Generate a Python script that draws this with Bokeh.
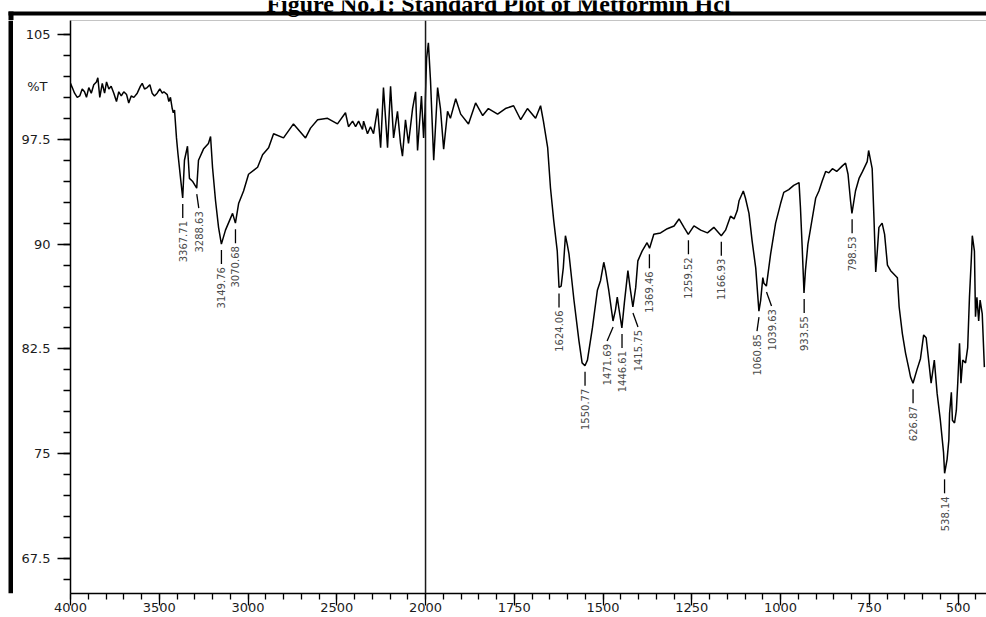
import numpy as np
from bokeh.plotting import figure
from bokeh.layouts import column, row
from bokeh.models import Range1d, FixedTicker, Span, LinearAxis
from bokeh.core.properties import value
from bokeh.embed import file_html
from bokeh.resources import INLINE

# ---------------- data ----------------
wavenumber = [
    4000, 3990, 3977, 3962, 3948, 3934, 3921, 3910, 3897, 3883, 3869, 3854, 3846, 3835,
    3821, 3808, 3797, 3784, 3771, 3756, 3741, 3728, 3714, 3700, 3684, 3672, 3658, 3643,
    3624, 3606, 3596, 3583, 3568, 3553, 3540, 3527, 3512, 3497, 3483, 3474, 3455, 3446,
    3437, 3427, 3421, 3414, 3403, 3395, 3380, 3368, 3358, 3341, 3330, 3313, 3289, 3279,
    3251, 3223, 3211, 3200, 3183, 3166, 3150, 3127, 3087, 3071, 3053, 3025, 2997, 2946,
    2918, 2884, 2856, 2800, 2744, 2676, 2648, 2608, 2552, 2496, 2451, 2434, 2411, 2394,
    2377, 2355, 2349, 2327, 2310, 2293, 2270, 2253, 2237, 2214, 2197, 2180, 2158, 2141,
    2130, 2113, 2096, 2073, 2056, 2045, 2023, 2011, 2003,
    1997, 1992, 1986, 1977, 1966, 1958, 1949, 1938, 1930, 1915, 1901, 1879, 1859, 1839,
    1823, 1797, 1775, 1752, 1732, 1713, 1690, 1676, 1668, 1656, 1648, 1639, 1629, 1624,
    1618, 1612, 1606, 1601, 1596, 1582, 1568, 1559, 1551, 1544, 1530, 1516, 1507, 1498,
    1493, 1484, 1472, 1465, 1460, 1456, 1447, 1440, 1430, 1424, 1416, 1408, 1402, 1390,
    1376, 1369, 1357, 1338, 1319, 1300, 1286, 1272, 1260, 1244, 1225, 1206, 1188, 1174,
    1167, 1155, 1141, 1131, 1122, 1117, 1105, 1099, 1089, 1080, 1070, 1061, 1056, 1050,
    1047, 1040, 1028, 1014, 1000, 991, 977, 963, 948, 944, 939, 934, 930, 923, 915, 901,
    892, 883, 873, 864, 854, 842, 826, 817, 810, 803, 799, 789, 779, 769, 756, 752, 742,
    737, 732, 727, 723, 714, 707, 699, 690, 671, 666, 657, 648, 638, 634, 627, 616, 606,
    597, 590, 583, 576, 567, 559, 550, 541, 538, 531, 526, 524, 519, 516, 510, 505, 501,
    496, 492, 487, 479, 473, 468, 463, 460, 454, 451, 447, 442, 438, 432, 426,
]
transmittance = [
    101.5, 101.2, 100.8, 100.5, 100.6, 101.1, 100.9, 100.5, 101.2, 100.8, 101.4, 101.6, 101.9, 100.5,
    101.5, 100.8, 101.6, 101.1, 101.3, 100.8, 100.2, 100.9, 100.6, 100.9, 100.7, 100.1, 100.6, 100.5,
    100.8, 101.3, 101.5, 101.1, 101.2, 101.4, 100.8, 100.6, 100.8, 101.1, 100.8, 100.9, 100.7, 100.2,
    100.5, 99.7, 99.4, 99.6, 97.6, 96.5, 94.7, 93.3, 96.0, 97.0, 94.7, 94.5, 94.0, 96.0,
    96.8, 97.2, 97.7, 95.5, 93.1, 91.2, 90.0, 91.0, 92.2, 91.5, 92.9, 93.8, 95.0, 95.5,
    96.4, 96.9, 97.9, 97.6, 98.6, 97.6, 98.3, 98.9, 99.0, 98.6, 99.4, 98.4, 98.8, 98.4,
    98.8, 98.2, 98.8, 97.9, 98.4, 97.9, 99.7, 96.9, 101.2, 96.9, 101.3, 97.6, 99.5, 97.2,
    96.3, 98.9, 97.2, 99.7, 100.9, 96.7, 100.6, 97.6, 99.5,
    103.3, 104.4, 101.7, 96.0, 101.2, 99.7, 96.8, 99.5, 99.0, 100.4, 99.3, 98.6, 100.1, 99.2,
    99.7, 99.3, 99.7, 99.9, 98.9, 99.7, 99.0, 99.9, 98.8, 96.9, 94.0, 91.7, 89.5, 86.9,
    87.0, 88.3, 90.6, 90.0, 89.3, 86.0, 83.1, 81.5, 81.3, 81.7, 84.0, 86.7, 87.4, 88.7,
    88.1, 86.7, 84.5, 85.3, 86.2, 85.5, 84.0, 85.8, 88.1, 86.9, 85.5, 86.9, 88.8, 89.5,
    90.1, 89.7, 90.7, 90.8, 91.1, 91.3, 91.8, 91.2, 90.7, 91.3, 91.0, 90.8, 91.2, 90.8,
    90.6, 91.0, 92.0, 91.8, 92.4, 93.1, 93.8, 93.3, 92.2, 90.2, 88.3, 85.2, 86.0, 87.6,
    87.2, 87.0, 89.3, 91.5, 92.9, 93.7, 93.9, 94.2, 94.4, 92.6, 89.7, 86.5, 88.1, 90.0, 91.2, 93.3,
    93.8, 94.5, 95.2, 95.1, 95.4, 95.2, 95.6, 95.8, 95.0, 93.1, 92.2, 93.8, 94.7, 95.2, 95.9, 96.7, 95.4,
    91.9, 88.0, 89.7, 91.2, 91.5, 90.7, 88.5, 88.1, 87.6, 85.5, 83.6, 82.2, 81.0, 80.5, 80.05, 81.0, 81.8,
    83.5, 83.3, 81.7, 80.05, 81.7, 79.3, 77.4, 75.1, 73.6, 74.6, 76.0, 77.9, 79.4, 77.4, 77.2, 78.1, 80.05,
    82.9, 80.05, 81.7, 81.5, 82.6, 86.2, 88.8, 90.6, 89.5, 84.8, 86.2, 84.5, 86.0, 85.0, 81.2,
]

peak_labels = ["3367.71", "3288.63", "3149.76", "3070.68", "1624.06", "1550.77",
               "1471.69", "1446.61", "1415.75", "1369.46", "1259.52", "1166.93",
               "1060.85", "1039.63", "933.55", "798.53", "626.87", "538.14"]
peak_wn = [float(s) for s in peak_labels]
peak_T = [93.3, 94.0, 90.0, 91.5, 86.9, 81.3, 84.5, 84.0, 85.5, 89.7, 90.7, 90.6,
          85.2, 87.0, 86.5, 92.2, 80.05, 73.6]

x_tick_values = [4000, 3500, 3000, 2500, 2000, 1750, 1500, 1250, 1000, 750, 500]
y_tick_values = [67.5, 75, 82.5, 90, 97.5, 105]
y_tick_labels = ["67.5", "75", "82.5", "90", "97.5", "105"]
y_unit_pos, y_unit_text = 101.25, "%T"

title_text = "Figure No.1: Standard Plot of Metformin Hcl"

X_LEFT, X_RIGHT = 4000, 420
Y_MIN, Y_MAX = 65, 106


def to_disp(w):
    """IR chart abscissa: 4000-2000 cm-1 drawn at half the scale of 2000-400."""
    w = np.asarray(w, dtype=float)
    return np.where(w > 2000, 2000 + (w - 2000) / 2.0, w)


# ---------------- page geometry ----------------
PAGE_W, PAGE_H = 986, 617
TOP_H = 20          # strip holding the cut title and the box border
LEFT_W = 13         # strip holding the thick left box border
BORDER_X0 = 8       # left edge of the box border
BORDER_TOP = (11, 15)
MAIN_W, MAIN_H = PAGE_W - LEFT_W, PAGE_H - TOP_H
B_LEFT, B_RIGHT, B_TOP, B_BOTTOM = 70 - LEFT_W, 0, 0, 24
frame_w = MAIN_W - B_LEFT - B_RIGHT
frame_h = MAIN_H - B_TOP - B_BOTTOM
d_left, d_right = float(to_disp(X_LEFT)), float(to_disp(X_RIGHT))
ppx = frame_w / (d_left - d_right)   # px per display unit
ppy = frame_h / (Y_MAX - Y_MIN)      # px per %T


def decor_fig(w, h):
    f = figure(width=w, height=h, x_range=Range1d(0, w), y_range=Range1d(h, 0),
               output_backend="svg", toolbar_location=None, min_border=0,
               x_axis_type=None, y_axis_type=None)
    f.outline_line_color = None
    f.background_fill_color = "white"
    f.border_fill_color = "white"
    return f


# top strip: title (its upper half falls outside the page, as in the reference) + border
top = decor_fig(PAGE_W, TOP_H)
top.text(x=[PAGE_W / 2 + 5], y=[3], text=[title_text], text_align="center",
         text_baseline="alphabetic", text_font=value("Liberation Serif"),
         text_font_style="bold", text_font_size="24px", text_color="black")
top.quad(left=[BORDER_X0], right=[PAGE_W], top=[BORDER_TOP[0]], bottom=[BORDER_TOP[1]],
         fill_color="black", line_color=None)
top.quad(left=[BORDER_X0], right=[LEFT_W], top=[BORDER_TOP[0]], bottom=[TOP_H],
         fill_color="black", line_color=None)

# left strip: thick border
left = decor_fig(LEFT_W, MAIN_H)
left.quad(left=[BORDER_X0], right=[LEFT_W], top=[0], bottom=[MAIN_H],
          fill_color="black", line_color=None)

# ---------------- main chart ----------------
p = figure(width=MAIN_W, height=MAIN_H, output_backend="svg", toolbar_location=None,
           x_range=Range1d(d_left, d_right), y_range=Range1d(Y_MIN, Y_MAX),
           min_border_left=B_LEFT, min_border_right=B_RIGHT,
           min_border_top=B_TOP, min_border_bottom=B_BOTTOM)
p.background_fill_color = "white"
p.border_fill_color = "white"
p.outline_line_color = None
p.grid.visible = False

tick_font = "DejaVu Sans"
tick_color = "#1c1c1c"
tick_size = "13px"

# x axis
xt = [float(v) for v in to_disp(x_tick_values)]
p.xaxis.ticker = FixedTicker(ticks=xt, minor_ticks=[float(v) for v in np.arange(400, 3001, 50)])
p.xaxis.major_label_overrides = {t: str(v) for t, v in zip(xt, x_tick_values)}
p.xaxis.axis_line_color = "black"
p.xaxis.axis_line_width = 1.5
p.xaxis.major_tick_in = 0
p.xaxis.major_tick_out = 12
p.xaxis.minor_tick_in = 0
p.xaxis.minor_tick_out = 6
p.xaxis.major_tick_line_width = 1.3
p.xaxis.minor_tick_line_width = 1.3
p.xaxis.major_label_standoff = -3
p.xaxis.major_label_text_font = tick_font
p.xaxis.major_label_text_font_size = tick_size
p.xaxis.major_label_text_color = tick_color

# y axis: ticks and value labels
p.yaxis.ticker = FixedTicker(ticks=y_tick_values,
                             minor_ticks=[66 + 1.5 * i for i in range(27)])
p.yaxis.major_label_overrides = {float(t): s for t, s in zip(y_tick_values, y_tick_labels)}
p.yaxis.axis_line_color = "black"
p.yaxis.axis_line_width = 1.5
p.yaxis.major_tick_in = 0
p.yaxis.major_tick_out = 13
p.yaxis.minor_tick_in = 0
p.yaxis.minor_tick_out = 7
p.yaxis.major_tick_line_width = 1.3
p.yaxis.minor_tick_line_width = 1.3
p.yaxis.major_label_standoff = 7
p.yaxis.major_label_text_font = tick_font
p.yaxis.major_label_text_font_size = tick_size
p.yaxis.major_label_text_color = tick_color

# "%T" unit: a tick-less label axis pulled back into the value-label column
yunit = LinearAxis(ticker=FixedTicker(ticks=[y_unit_pos], minor_ticks=[]),
                   major_label_overrides={float(y_unit_pos): y_unit_text})
yunit.axis_line_color = None
yunit.major_tick_line_color = None
yunit.minor_tick_line_color = None
yunit.major_tick_in = 0
yunit.major_tick_out = 0
yunit.minor_tick_in = 0
yunit.minor_tick_out = 0
yunit.major_label_standoff = -29
yunit.major_label_text_font = tick_font
yunit.major_label_text_font_size = tick_size
yunit.major_label_text_color = tick_color
p.add_layout(yunit, "left")

# frame top line and the 2000 cm-1 scale-change line
p.add_layout(Span(location=Y_MAX, dimension="width", line_color="#8a8a8a", line_width=1))
p.add_layout(Span(location=2000, dimension="height", line_color="#1a1a1a", line_width=1.5))

# spectrum
p.line(to_disp(wavenumber), transmittance, line_color="black", line_width=1.5)

# peak markers
label_dx = {"3288.63": 2, "1471.69": -6, "1415.75": 5, "1039.63": 5, "1060.85": -2}
px0 = to_disp(peak_wn)
dx = np.array([label_dx.get(s, 0) for s in peak_labels], dtype=float)
px1 = px0 - dx / ppx
pT = np.asarray(peak_T, dtype=float)
p.segment(x0=px0, y0=pT - 6 / ppy, x1=px1, y1=pT - 20 / ppy,
          line_color="black", line_width=1.3)
p.text(x=px1, y=pT - 23 / ppy, text=peak_labels, angle=np.pi / 2,
       text_align="right", text_baseline="middle",
       text_font=value("DejaVu Sans"), text_font_size="10px", text_color="#4a4a4a")

layout = column(top, row(left, p, spacing=0), spacing=0)
open("out.html", "w").write(file_html(layout, INLINE))
